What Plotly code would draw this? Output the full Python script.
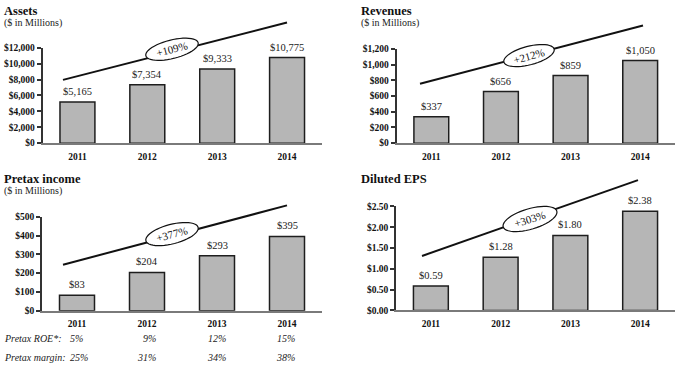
import math
import plotly.graph_objects as go

W, H = 675, 367
SERIF = "Liberation Serif, Times New Roman, serif"

years = ["2011", "2012", "2013", "2014"]
assets = [5165, 7354, 9333, 10775]
revenues = [337, 656, 859, 1050]
pretax_income = [83, 204, 293, 395]
diluted_eps = [0.59, 1.28, 1.80, 2.38]

assets_labels = ["$5,165", "$7,354", "$9,333", "$10,775"]
revenues_labels = ["$337", "$656", "$859", "$1,050"]
pretax_labels = ["$83", "$204", "$293", "$395"]
eps_labels = ["$0.59", "$1.28", "$1.80", "$2.38"]

growth = ["+109%", "+212%", "+377%", "+303%"]
titles = ["Assets", "Revenues", "Pretax income", "Diluted EPS"]
subtitles = ["($ in Millions)", "($ in Millions)", "($ in Millions)", ""]

pretax_roe = ["5%", "9%", "12%", "15%"]
pretax_margin = ["25%", "31%", "34%", "38%"]


def px(x):
    return x / W


def py(y):
    return 1 - y / H


# panel layout in pixels
panels = [
    dict(vals=assets, labels=assets_labels, xa="x", ya="y", xpx=(42.5, 322), ypx=(44, 142),
         yr=(0, 12000), dtick=2000, fmt=",d", title_xy=(2, 6.5), sub_y=18.5,
         trend=((63, 77), (287, 18)), ell=(172, 45.5, 27, 9.5, 14.5)),
    dict(vals=revenues, labels=revenues_labels, xa="x2", ya="y2", xpx=(396.5, 675), ypx=(45, 142),
         yr=(0, 1200), dtick=200, fmt=",d", title_xy=(359, 6.5), sub_y=18.5,
         trend=((420, 81), (643, 21)), ell=(529, 52, 26, 9.5, 15)),
    dict(vals=pretax_income, labels=pretax_labels, xa="x3", ya="y3", xpx=(42, 322), ypx=(217.7, 314.3),
         yr=(0, 500), dtick=100, fmt=",d", title_xy=(2, 179), sub_y=191.5,
         trend=((63, 267), (287, 206)), ell=(172, 235.5, 27, 10, 15)),
    dict(vals=diluted_eps, labels=eps_labels, xa="x4", ya="y4", xpx=(396, 675), ypx=(207, 314),
         yr=(0, 2.5), dtick=0.5, fmt=".2f", title_xy=(359, 179), sub_y=None,
         trend=((422, 258), (638, 180)), ell=(530, 220, 28, 10.5, 17)),
]

fig = go.Figure()
shapes = []
annotations = []
layout_axes = {}

for i, p in enumerate(panels):
    fig.add_trace(go.Bar(
        x=years, y=p["vals"], xaxis=p["xa"], yaxis=p["ya"], width=0.5,
        marker=dict(color="#b6b6b6", line=dict(color="#1e1e1e", width=1.5)),
        showlegend=False, hoverinfo="skip",
    ))
    xkey = "xaxis" + p["xa"][1:]
    ykey = "yaxis" + p["ya"][1:]
    layout_axes[xkey] = dict(
        domain=[px(p["xpx"][0]), px(p["xpx"][1])], anchor=p["ya"], type="category",
        range=[-0.5, 3.5], showline=True, linecolor="#7a7a7a", linewidth=2,
        ticks="", showgrid=False, zeroline=False, ticklabelstandoff=3,
        tickfont=dict(family=SERIF, size=9.5, color="#111", weight="bold"),
    )
    layout_axes[ykey] = dict(
        domain=[py(p["ypx"][1]), py(p["ypx"][0])], anchor=p["xa"],
        range=list(p["yr"]), dtick=p["dtick"], tick0=0, tickformat=p["fmt"], tickprefix="$",
        showline=True, linecolor="#333", linewidth=1.5, ticks="outside", ticklen=4,
        tickcolor="#333", tickwidth=1.5, showgrid=False, zeroline=False,
        tickfont=dict(family=SERIF, size=9.5, color="#111", weight="bold"),
    )
    # value labels
    for j, (v, lab) in enumerate(zip(p["vals"], p["labels"])):
        annotations.append(dict(
            x=j, y=v, xref=p["xa"], yref=p["ya"], text=lab, showarrow=False,
            yanchor="middle", yshift=10.5,
            font=dict(family=SERIF, size=10.5, color="#222"),
        ))
    # titles
    tx, ty = p["title_xy"]
    annotations.append(dict(
        x=px(tx), y=py(ty), xref="paper", yref="paper", text=titles[i], showarrow=False,
        xanchor="left", yanchor="middle",
        font=dict(family=SERIF, size=12.5, color="#111", weight="bold"),
    ))
    if p["sub_y"] is not None:
        annotations.append(dict(
            x=px(tx), y=py(p["sub_y"]), xref="paper", yref="paper", text=subtitles[i],
            showarrow=False, xanchor="left", yanchor="middle",
            font=dict(family=SERIF, size=10, color="#222"),
        ))
    # decorative growth line
    (x0, y0), (x1, y1) = p["trend"]
    shapes.append(dict(type="line", xref="paper", yref="paper",
                       x0=px(x0), y0=py(y0), x1=px(x1), y1=py(y1),
                       line=dict(color="#111", width=2)))
    cx, cy, a, b, ang = p["ell"]
    th = math.radians(ang)
    pts = []
    for k in range(48):
        t = 2 * math.pi * k / 48
        ex = cx + a * math.cos(th) * math.cos(t) - b * math.sin(th) * math.sin(t)
        ey = cy - (a * math.sin(th) * math.cos(t) + b * math.cos(th) * math.sin(t))
        pts.append(f"{px(ex):.5f},{py(ey):.5f}")
    path = "M " + " L ".join(pts) + " Z"
    shapes.append(dict(type="path", xref="paper", yref="paper", path=path,
                       fillcolor="white", line=dict(color="#111", width=1.2)))
    annotations.append(dict(
        x=px(cx), y=py(cy), xref="paper", yref="paper", text=growth[i], showarrow=False,
        textangle=-ang, xanchor="center", yanchor="middle",
        font=dict(family=SERIF, size=11, color="#111"),
    ))

# pretax ROE / margin rows
row_font = dict(family=SERIF, size=10, color="#222", style="italic")
annotations.append(dict(x=px(2), y=py(343), xref="paper", yref="paper", text="Pretax ROE*:",
                        showarrow=False, xanchor="left", yanchor="middle", font=row_font))
annotations.append(dict(x=px(2), y=py(362), xref="paper", yref="paper", text="Pretax margin:",
                        showarrow=False, xanchor="left", yanchor="middle", font=row_font))
roe_shift = [8, 11, 11, 10]
margin_shift = [13, 11, 11, 10]
for j, (r, m) in enumerate(zip(pretax_roe, pretax_margin)):
    annotations.append(dict(x=j, y=py(343), xref="x3", yref="paper", text=r, showarrow=False,
                            xanchor="right", yanchor="middle", xshift=roe_shift[j], font=row_font))
    annotations.append(dict(x=j, y=py(362), xref="x3", yref="paper", text=m, showarrow=False,
                            xanchor="right", yanchor="middle", xshift=margin_shift[j], font=row_font))

fig.update_layout(
    width=W, height=H, margin=dict(l=0, r=0, t=0, b=0),
    paper_bgcolor="white", plot_bgcolor="white",
    shapes=shapes, annotations=annotations, showlegend=False,
    **layout_axes,
)

fig.write_html("out.html", config={"displayModeBar": False},
               post_script="document.body.style.margin='0';document.body.style.overflow='hidden';")
